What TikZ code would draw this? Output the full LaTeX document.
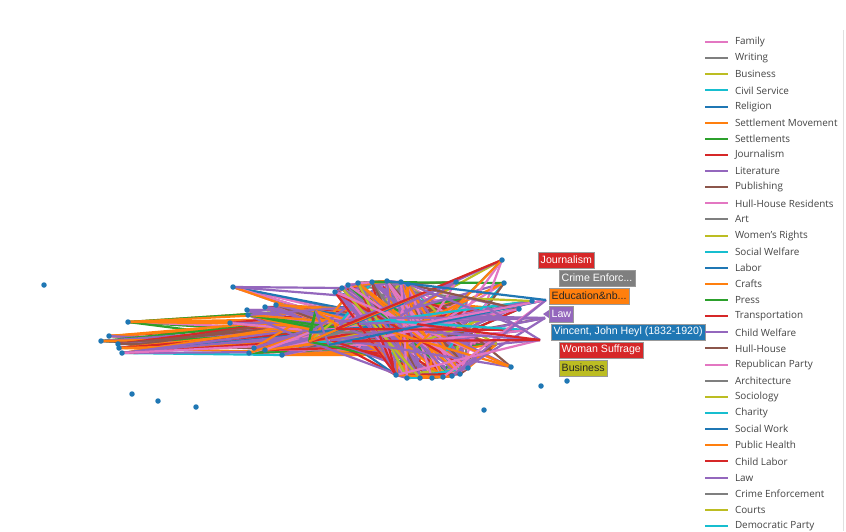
\documentclass[tikz,border=0pt]{standalone}
\usepackage{fontspec}
\setmainfont{Open Sans}
\newfontfamily\tipfont{Liberation Sans}
\usetikzlibrary{positioning}

\definecolor{pBlue}{HTML}{1F77B4}
\definecolor{pOrange}{HTML}{FF7F0E}
\definecolor{pGreen}{HTML}{2CA02C}
\definecolor{pRed}{HTML}{D62728}
\definecolor{pPurple}{HTML}{9467BD}
\definecolor{pBrown}{HTML}{8C564B}
\definecolor{pPink}{HTML}{E377C2}
\definecolor{pGray}{HTML}{7F7F7F}
\definecolor{pOlive}{HTML}{BCBD22}
\definecolor{pCyan}{HTML}{17BECF}
\definecolor{legfont}{HTML}{444444}

\tikzset{
  dot/.style={circle,fill=pBlue,inner sep=0pt,minimum size=5.5pt},
  edge/.style={line width=2.2pt},
  tip/.style={font=\tipfont\fontsize{10.6}{12}\selectfont,text=white,anchor=west,
    inner xsep=2.5pt,inner ysep=0pt,minimum height=16pt,draw=white!60!black,line width=0.4pt},
  legline/.style={line width=2pt},
  legtext/.style={font=\fontsize{9.9}{11}\selectfont,text=legfont,anchor=west,inner sep=0pt},
}

\pgfmathdeclarerandomlist{midcols}{{pPurple}{pPurple}{pPurple}{pPurple}{pPurple}{pPurple}{pPurple}{pPurple}{pPink}{pPink}{pPink}{pPink}{pOrange}{pOrange}{pOrange}{pRed}{pRed}{pBlue}{pCyan}{pCyan}{pOlive}{pOlive}{pGreen}{pGray}{pBrown}}
\pgfmathdeclarerandomlist{leftcols}{{pOrange}{pOrange}{pOrange}{pOrange}{pPurple}{pPurple}{pPurple}{pPurple}{pPink}{pPink}{pBlue}{pRed}{pGreen}{pBrown}}

\begin{document}
\begin{tikzpicture}[x=1pt,y=-1pt]
  \useasboundingbox (0,0) rectangle (846,531);
  \fill[white] (0,0) rectangle (846,531);
  \pgfmathsetseed{11}

  % cluster rim (visible dots)
  \foreach \i/\px/\py in {1/342/288,2/348/285,3/358/283,4/372/282,5/387/281,6/401/282,
      7/408/284,8/396/375,9/407/378,10/420/378,11/432/378,12/443/377,13/460/374,
      14/468/368,15/335/292,16/452/376}
    \coordinate (c\i) at (\px,\py);
  % cluster inside
  \foreach \i in {17,...,70}{
    \pgfmathsetmacro{\hx}{400+125*(rand+rand)/2}
    \pgfmathsetmacro{\hy}{326+34*(rand+rand)/2}
    \coordinate (c\i) at (\hx,\hy);
  }
  % outer nodes
  \foreach \i/\px/\py in {1/233/287,2/128/322,3/109/336,4/101/341,5/118/344,6/119/348,
      7/122/353,8/247/310,9/230/323,10/254/348,11/249/353,12/282/355,13/265/307,
      14/276/305,15/248/315,16/265/350}
    \coordinate (l\i) at (\px,\py);
  \foreach \i/\px/\py in {1/456/282,2/504/283,3/502/260,4/532/301,5/519/309,6/511/367,
      7/545/318,8/527/330,9/546/300,10/540/340}
    \coordinate (r\i) at (\px,\py);
  \foreach \i/\px/\py in {1/44/285,2/132/394,3/158/401,4/196/407,5/484/410,6/541/386,7/567/381}
    \coordinate (o\i) at (\px,\py);

  % edges
  \draw[edge,pCyan] (l7) -- (l12) -- (c30);
  \draw[edge,pGreen] (l2) -- (c20);
  \draw[edge,pPurple] (l1) -- (c1);
  \draw[edge,pCyan] (r3) -- (c25);
  \draw[edge,pOlive] (r3) -- (c40);
  \foreach \i in {1,...,16}{
    \foreach \k in {1,...,9}{
      \pgfmathrandominteger{\b}{17}{70}
      \pgfmathrandomitem{\ec}{leftcols}
      \draw[edge,draw=\ec] (l\i) -- (c\b);
    }
  }
  \foreach \k in {1,...,500}{
    \pgfmathrandominteger{\a}{1}{70}
    \pgfmathrandominteger{\b}{17}{70}
    \pgfmathrandomitem{\ec}{midcols}
    \draw[edge,draw=\ec] (c\a) -- (c\b);
  }
  \foreach \k in {1,...,120}{
    \pgfmathrandominteger{\a}{1}{16}
    \pgfmathrandominteger{\b}{1}{16}
    \pgfmathrandomitem{\ec}{midcols}
    \draw[edge,draw=\ec] (c\a) -- (c\b);
  }
  \foreach \i in {1,...,10}{
    \foreach \k in {1,...,6}{
      \pgfmathrandominteger{\b}{1}{70}
      \pgfmathrandomitem{\ec}{midcols}
      \draw[edge,draw=\ec] (r\i) -- (c\b);
    }
  }

  % dots
  \foreach \i in {1,...,16} \node[dot] (dc\i) at (c\i) {};
  \foreach \i in {1,...,16} \node[dot] (dl\i) at (l\i) {};
  \foreach \i in {1,...,6} \node[dot] (dr\i) at (r\i) {};
  \foreach \i in {1,...,7} \node[dot] (do\i) at (o\i) {};

  % hover labels
  \node[tip,fill=pRed] (tJour) at (538,260) {Journalism};
  \node[tip,fill=pGray] (tCrime) at (559,278) {Crime Enforc...};
  \node[tip,fill=pOrange,text=black!85] (tEdu) at (549,296) {Education\&nb...};
  \fill[pPurple] (543,314) -- (549,310) -- (549,318) -- cycle;
  \node[tip,fill=pPurple] (tLaw) at (549,314) {Law};
  \node[tip,fill=pBlue] (tVinc) at (551,332) {Vincent, John Heyl (1832-1920)};
  \node[tip,fill=pRed] (tWom) at (559,350) {Woman Suffrage};
  \node[tip,fill=pOlive,text=black!85] (tBus) at (559,368) {Business};

  % legend
  \draw[black!12] (843,30) -- (843,531);
  \foreach \lab/\col [count=\i from 0] in {Family/pPink,Writing/pGray,Business/pOlive,
      Civil Service/pCyan,Religion/pBlue,Settlement Movement/pOrange,Settlements/pGreen,
      Journalism/pRed,Literature/pPurple,Publishing/pBrown,Hull-House Residents/pPink,
      Art/pGray,Women's Rights/pOlive,Social Welfare/pCyan,Labor/pBlue,Crafts/pOrange,
      Press/pGreen,Transportation/pRed,Child Welfare/pPurple,Hull-House/pBrown,
      Republican Party/pPink,Architecture/pGray,Sociology/pOlive,Charity/pCyan,
      Social Work/pBlue,Public Health/pOrange,Child Labor/pRed,Law/pPurple,
      Crime Enforcement/pGray,Courts/pOlive,Democratic Party/pCyan}{
    \coordinate (k\i) at (705,{42+16.13*\i});
    \draw[legline,draw=\col] (k\i) -- ++(23,0) node[legtext,right=6pt] (t\i) {\lab};
  }
\end{tikzpicture}
\end{document}
